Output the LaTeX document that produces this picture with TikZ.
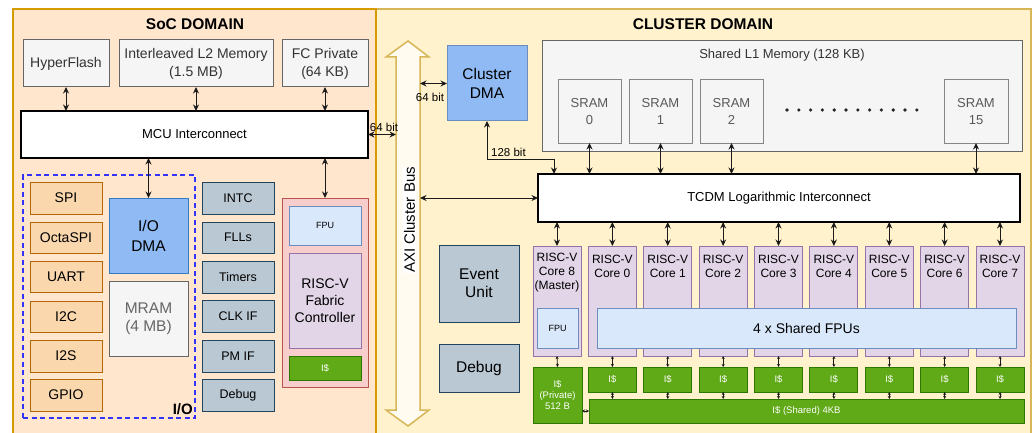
\documentclass[tikz,border=0pt]{standalone}
\usepackage{fontspec}
\setmainfont{Liberation Sans}
\usetikzlibrary{arrows.meta,calc}

\definecolor{socfill}{HTML}{FFE6CC}
\definecolor{socline}{HTML}{D79B00}
\definecolor{clfill}{HTML}{FFF2CC}
\definecolor{clline}{HTML}{D6B656}
\definecolor{axifill}{HTML}{FFFBF0}
\definecolor{memfill}{HTML}{F5F5F5}
\definecolor{memline}{HTML}{666666}
\definecolor{memtext}{HTML}{333333}
\definecolor{perfill}{HTML}{FAD7AC}
\definecolor{perline}{HTML}{B46504}
\definecolor{ctlfill}{HTML}{BAC8D3}
\definecolor{ctlline}{HTML}{23445D}
\definecolor{dmafill}{HTML}{8FBAF4}
\definecolor{dmaline}{HTML}{2F7BC4}
\definecolor{cdmaline}{HTML}{6C8EBF}
\definecolor{fcfill}{HTML}{F8CECC}
\definecolor{fcline}{HTML}{B85450}
\definecolor{fpufill}{HTML}{DAE8FC}
\definecolor{fpuline}{HTML}{6C8EBF}
\definecolor{cpufill}{HTML}{E1D5E7}
\definecolor{cpuline}{HTML}{9673A6}
\definecolor{cachefill}{HTML}{60A917}
\definecolor{cacheline}{HTML}{2D7600}
\definecolor{iodash}{HTML}{3333FF}
\definecolor{wire}{HTML}{1A1A1A}

\newcommand\fsz[2]{\fontsize{#1}{#2}\selectfont}
% block given by its top-left and bottom-right corners (in px)
\newcommand\blk[7]{\node[blk,#6,minimum width={#4pt-#2pt},minimum height={#5pt-#3pt}] (#1) at (#2,#3) {#7};}

\begin{document}
\begin{tikzpicture}[x=1pt,y=-1pt,
  blk/.style={draw, line width=1pt, inner sep=1pt, outer sep=0pt, anchor=north west, align=center},
  domainbox/.style={line width=1.5pt},
  title/.style={font=\bfseries\fsz{15.5}{18}, inner sep=0pt},
  mem/.style={fill=memfill, draw=memline, text=memtext, font=\fsz{14}{18}},
  per/.style={fill=perfill, draw=perline, font=\fsz{14}{16}},
  ctl/.style={fill=ctlfill, draw=ctlline, font=\fsz{12.5}{15}},
  ctlbig/.style={fill=ctlfill, draw=ctlline, font=\fsz{15.5}{18}},
  bus/.style={fill=white, draw=black, line width=1.5pt, font=\fsz{13}{15}},
  dmabox/.style={fill=dmafill, draw=dmaline, font=\fsz{15.5}{20}},
  mram/.style={fill=memfill, draw=memline, text=memline, font=\fsz{15.5}{18}},
  fpu/.style={fill=fpufill, draw=fpuline, font=\fsz{9}{11}},
  cpu/.style={fill=cpufill, draw=cpuline},
  cache/.style={fill=cachefill, draw=cacheline, text=white, font=\fsz{9.5}{11}},
  sram/.style={fill=memfill, draw=memline!80, text=black!65, font=\fsz{13}{17}},
  coretxt/.style={font=\fsz{12}{14}, align=center, inner sep=0pt},
  arr/.style={draw=wire, line width=1pt, {Stealth[length=6.5pt,width=6pt]}-{Stealth[length=6.5pt,width=6pt]}},
  tinyarr/.style={draw=wire, line width=0.8pt, {Stealth[length=3pt,width=3pt]}-{Stealth[length=3pt,width=3pt]}},
  lbl/.style={font=\fsz{11.5}{13}, inner sep=0pt}]

\useasboundingbox (0,0) rectangle (1035,433);
\fill[white] (0,0) rectangle (1035,433);

% ---------------- domains (run past the bottom edge) ----------------
\begin{scope}
  \clip (0,0) rectangle (1035,433);
  \blk{cldom}{376}{9}{1031}{460}{domainbox, fill=clfill, draw=clline}{}
  \blk{socdom}{13}{9}{376}{460}{domainbox, fill=socfill, draw=socline}{}
\end{scope}
\node[title] (soct) at (195,24) {SoC DOMAIN};
\node[title] (clt) at (703,24) {CLUSTER DOMAIN};

% ---------------- SoC domain ----------------
\blk{hf}{23}{40}{109}{87}{mem}{HyperFlash}
\blk{l2}{119}{40}{273}{87}{mem}{Interleaved L2 Memory\\(1.5 MB)}
\blk{fcp}{282}{40}{368}{87}{mem}{FC Private\\(64 KB)}
\blk{mcu}{21}{111}{368}{158}{bus}{MCU Interconnect}

\blk{iobox}{23}{175}{195}{418}{draw=iodash, line width=1.5pt, dash pattern=on 5pt off 3.5pt}{}
\node[font=\bfseries\fsz{15}{17}, anchor=south east, inner sep=0pt] (iolab) at (193,415) {I/O};

\blk{spi}{30}{182}{102}{214}{per}{SPI}
\blk{ospi}{30}{222}{102}{253}{per}{OctaSPI}
\blk{uart}{30}{261}{102}{292}{per}{UART}
\blk{i2c}{30}{301}{102}{332}{per}{I2C}
\blk{i2s}{30}{340}{102}{372}{per}{I2S}
\blk{gpio}{30}{379}{102}{411}{per}{GPIO}

\blk{iodma}{109}{198}{188}{273}{dmabox}{I/O\\DMA}
\blk{mram}{109}{281}{188}{356}{mram}{MRAM\\(4 MB)}

\blk{intc}{202}{182}{274}{214}{ctl}{INTC}
\blk{flls}{202}{222}{274}{253}{ctl}{FLLs}
\blk{timers}{202}{261}{274}{293}{ctl}{Timers}
\blk{clkif}{202}{300}{274}{332}{ctl}{CLK IF}
\blk{pmif}{202}{340}{274}{372}{ctl}{PM IF}
\blk{sdbg}{202}{379}{274}{411}{ctl}{Debug}

\blk{fc}{282}{198}{368}{387}{fill=fcfill, draw=fcline}{}
\blk{fcfpu}{289}{206}{361}{245}{fpu}{FPU}
\blk{fccore}{289}{253}{361}{348}{cpu, font=\fsz{14}{17}}{RISC-V\\Fabric\\Controller}
\blk{fcis}{289}{356}{361}{380}{cache}{I\$}

% ---------------- AXI cluster bus ----------------
\draw[line width=1.5pt, draw=clline, fill=axifill]
  (408,41) -- (429,57) -- (420,57) -- (420,410) -- (429,410) -- (408,426)
  -- (386,410) -- (396,410) -- (396,57) -- (386,57) -- cycle;
\coordinate (axiL) at (396,0);
\coordinate (axiR) at (420,0);
\node[rotate=90, font=\fsz{15}{17}, inner sep=0.5pt, fill=white] (axit) at (409.5,220) {AXI Cluster Bus};

% ---------------- Cluster domain ----------------
\blk{cdma}{447}{46}{527}{121}{dmabox, draw=cdmaline, font=\fsz{15.5}{19}}{Cluster\\DMA}

\blk{l1}{542}{41}{1022}{151}{fill=memfill, draw=memline}{}
\node[font=\fsz{13}{15}, text=memtext, inner sep=0pt] (l1t) at (782,55) {Shared L1 Memory (128 KB)};
\blk{s0}{558}{80}{621}{143}{sram}{SRAM\\0}
\blk{s1}{629}{80}{692}{143}{sram}{SRAM\\1}
\blk{s2}{700}{80}{763}{143}{sram}{SRAM\\2}
\blk{s15}{944}{80}{1008}{143}{sram}{SRAM\\15}
\foreach \d in {0,...,11}
  \fill[black!85] ({787+11.8*\d},110) circle (1.8pt);

\blk{tcdm}{538}{174}{1020}{222}{bus}{TCDM Logarithmic Interconnect}

\blk{eu}{439}{245}{519}{322}{ctlbig}{Event\\Unit}
\blk{cdbg}{439}{344}{519}{392}{ctlbig}{Debug}

% cores: Core 8 (master) first, then cores 0..7
\foreach \k/\n in {0/8,1/0,2/1,3/2,4/3,5/4,6/5,7/6,8/7} {
  \pgfmathsetmacro\xl{533+55.375*\k}
  \pgfmathsetmacro\xr{\xl+48}
  \blk{c\n}{\xl}{246}{\xr}{356}{cpu}{}
}
\foreach \n in {0,...,7} {
  \node[coretxt] (ct\n) at ($(c\n.north)+(0,20)$) {RISC-V\\Core \n};
}
\node[coretxt] (ct8) at ($(c8.north)+(0,26.5)$) {RISC-V\\Core 8\\(Master)};

\blk{fpu8}{537}{308}{578}{348}{fpu}{FPU}
\blk{sfpu}{597}{308}{1016}{348}{fpu, font=\fsz{14}{16}}{4 x Shared FPUs}

\blk{ip}{533}{367}{582}{423}{cache}{I\$\\(Private)\\512 B}
\foreach \k/\n in {1/0,2/1,3/2,4/3,5/4,6/5,7/6,8/7} {
  \pgfmathsetmacro\xl{533+55.375*\k}
  \pgfmathsetmacro\xr{\xl+48}
  \blk{is\n}{\xl}{367}{\xr}{392}{cache}{I\$}
}
\blk{ish}{589}{399}{1024}{423}{cache}{I\$ (Shared) 4KB}

% ---------------- connections ----------------
\draw[arr] (hf.south) -- (hf.south |- mcu.north);
\draw[arr] (l2.south) -- (l2.south |- mcu.north);
\draw[arr] (fcp.south) -- (fcp.south |- mcu.north);
\draw[arr] (mcu.south -| iodma.north) -- (iodma.north);
\draw[arr] (mcu.south -| fc.north) -- (fc.north);

\draw[arr] (mcu.east) -- (mcu.east -| axiL);
\node[lbl] (w64a) at (384,127) {64 bit};
\draw[arr] (cdma.west -| axiR) -- (cdma.west);
\node[lbl] (w64b) at (430,97) {64 bit};
\draw[arr] (tcdm.west -| axiR) -- (tcdm.west);

\coordinate (dmabend) at (554,159);
\draw[arr] (cdma.south) |- (dmabend) -- (dmabend |- tcdm.north);
\node[lbl, anchor=west] (w128) at (491,152) {128 bit};

\foreach \s in {s0,s1,s2,s15}
  \draw[arr] (\s.south) -- (\s.south |- tcdm.north);

\foreach \n in {8,0,1,2,3,4,5,6,7}
  \draw[arr] (tcdm.south -| c\n.north) -- (c\n.north);

\draw[tinyarr] (c8.south) -- (ip.north);
\foreach \n in {0,...,7} {
  \draw[tinyarr] (c\n.south) -- (is\n.north);
  \draw[tinyarr] (is\n.south) -- (is\n.south |- ish.north);
}
\draw[tinyarr] (ish.west -| ip.east) -- (ish.west);

\end{tikzpicture}
\end{document}
